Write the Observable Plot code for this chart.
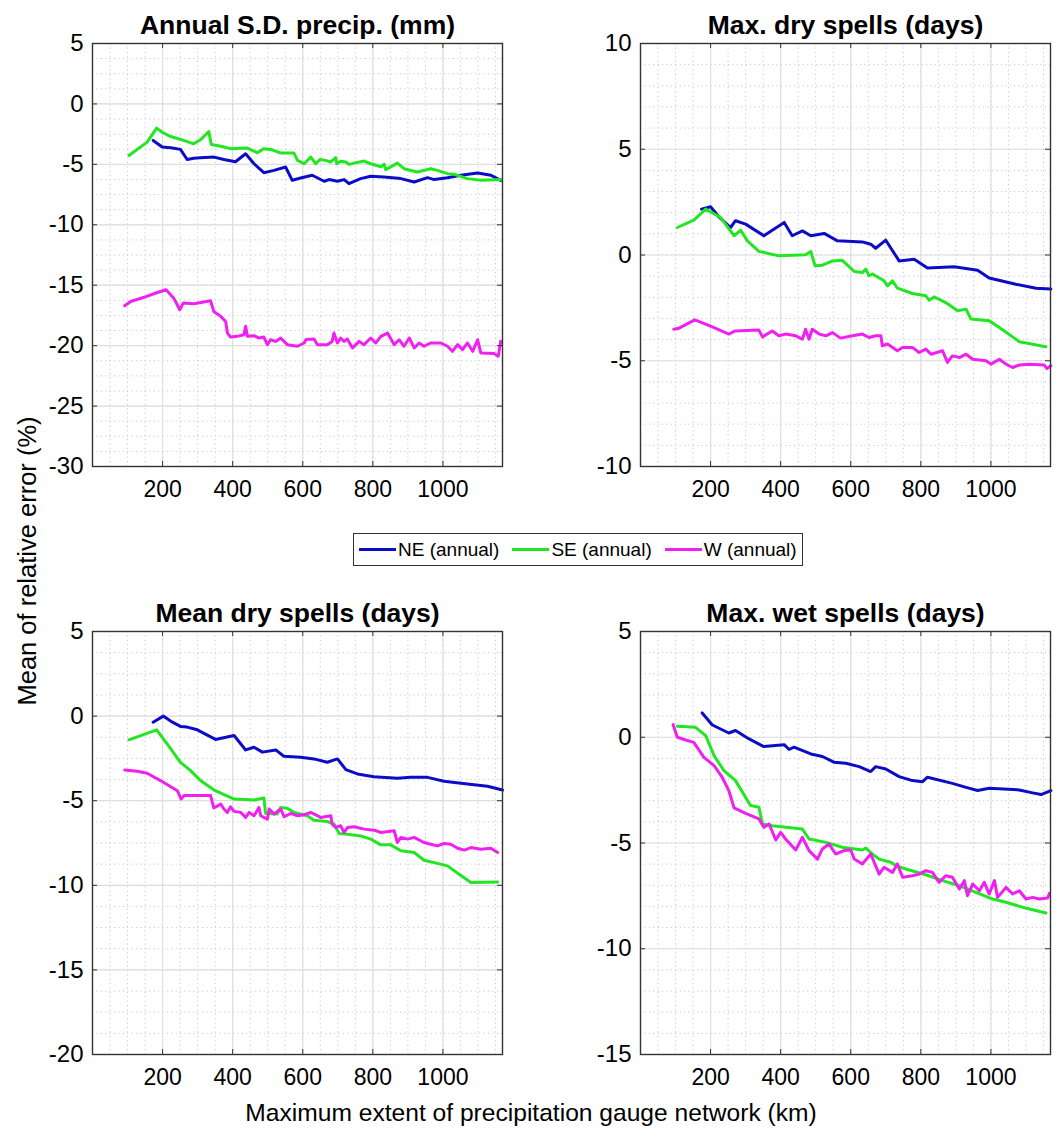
<!DOCTYPE html>
<html>
<head>
<meta charset="utf-8">
<script src="https://cdn.jsdelivr.net/npm/d3@7"></script>
<script src="https://cdn.jsdelivr.net/npm/@observablehq/plot@0.6"></script>
<style>
  html, body { margin: 0; padding: 0; background: #fff; }
  #root { position: relative; width: 1062px; height: 1141px; background: #fff; font-family: Arial, "Liberation Sans", Helvetica, sans-serif; color: #000; }
  .panel { position: absolute; }
  .ylab { position: absolute; left: 27px; top: 561px; transform: translate(-50%, -50%) rotate(-90deg); font-size: 25.5px; white-space: nowrap; }
  .xlab { position: absolute; left: 531px; top: 1099px; transform: translateX(-50%); font-size: 24.6px; white-space: nowrap; }
  .legend { position: absolute; left: 353px; top: 533px; width: 448px; height: 31px; border: 1px solid #333; display: flex; align-items: center; font-size: 19px; background: #fff; white-space: nowrap; }
  .legend .item { display: flex; align-items: center; flex-shrink: 0; margin-left: 5px; margin-right: 8px; white-space: nowrap; }
  .legend .sw { width: 37px; height: 3px; margin-right: 2px; flex-shrink: 0; }
</style>
</head>
<body>
<div id="root"></div>
<script>
// ---------- data ----------
const titles = ["Annual S.D. precip. (mm)", "Max. dry spells (days)", "Mean dry spells (days)", "Max. wet spells (days)"];
const seriesNames = ["NE (annual)", "SE (annual)", "W (annual)"];
const seriesColors = ["#0c0cc8", "#22e622", "#f020f0"];
const xTicks = [200, 400, 600, 800, 1000];
const yTicksSD = [5, 0, -5, -10, -15, -20, -25, -30];
const yTicksMaxDry = [10, 5, 0, -5, -10];
const yTicksMeanDry = [5, 0, -5, -10, -15, -20];
const yTicksMaxWet = [5, 0, -5, -10, -15];
const xLabel = "Maximum extent of precipitation gauge network (km)";
const yLabel = "Mean of relative error (%)";

// Annual S.D. precip.
const sdNE = [[173,-3.02],[199,-3.57],[223,-3.62],[251,-3.76],[270,-4.6],[289,-4.5],[308,-4.45],[347,-4.4],[375,-4.6],[408,-4.78],[437,-4.12],[461,-4.95],[489,-5.69],[518,-5.5],[551,-5.22],[570,-6.32],[594,-6.13],[627,-5.9],[661,-6.4],[675,-6.26],[699,-6.4],[718,-6.26],[732,-6.6],[765,-6.18],[794,-5.99],[832,-6.05],[880,-6.18],[918,-6.46],[956,-6.1],[975,-6.26],[1013,-6.1],[1051,-5.9],[1099,-5.71],[1137,-5.9],[1165,-6.32]];
const sdSE = [[104,-4.26],[156,-3.16],[183,-2.0],[199,-2.34],[223,-2.7],[256,-2.97],[289,-3.3],[308,-2.97],[332,-2.28],[339,-3.35],[366,-3.5],[394,-3.7],[442,-3.65],[470,-4.04],[489,-3.7],[513,-3.8],[537,-4.07],[575,-4.07],[585,-4.67],[604,-4.95],[623,-4.4],[637,-4.95],[649,-4.6],[665,-4.67],[680,-4.8],[694,-4.45],[697,-4.95],[708,-4.75],[723,-4.8],[732,-5.0],[746,-4.9],[775,-4.73],[794,-4.95],[823,-5.2],[832,-4.98],[837,-5.44],[870,-4.9],[889,-5.36],[927,-5.63],[965,-5.36],[984,-5.5],[1013,-5.77],[1032,-5.82],[1070,-6.18],[1108,-6.32],[1165,-6.26]];
const sdW = [[92,-16.7],[109,-16.35],[147,-16.0],[185,-15.6],[210,-15.38],[232,-16.07],[249,-17.03],[259,-16.48],[289,-16.54],[337,-16.29],[346,-17.17],[366,-17.58],[380,-18.0],[385,-18.96],[394,-19.29],[413,-19.23],[432,-19.1],[437,-18.4],[442,-19.23],[461,-19.18],[475,-19.37],[489,-19.29],[499,-19.92],[508,-19.51],[523,-19.65],[537,-19.37],[556,-19.92],[585,-20.05],[604,-19.78],[609,-19.5],[632,-19.45],[642,-19.92],[670,-19.92],[684,-19.65],[689,-18.96],[699,-19.78],[708,-19.37],[718,-19.65],[727,-19.45],[742,-20.19],[761,-19.65],[775,-19.92],[794,-19.37],[808,-19.78],[823,-19.23],[842,-18.96],[861,-19.92],[875,-19.51],[889,-20.05],[904,-19.37],[918,-20.19],[932,-19.78],[946,-20.05],[965,-19.78],[994,-19.78],[1013,-20.05],[1027,-20.47],[1042,-19.92],[1056,-20.33],[1070,-19.78],[1085,-20.47],[1099,-19.51],[1108,-20.6],[1146,-20.65],[1158,-20.88],[1165,-19.64]];

// Max. dry spells
const mxdNE = [[174,2.17],[200,2.28],[224,1.8],[257,1.3],[271,1.62],[300,1.46],[352,0.91],[410,1.54],[433,0.91],[462,1.14],[486,0.91],[524,1.02],[562,0.67],[633,0.62],[657,0.51],[671,0.32],[700,0.70],[738,-0.28],[781,-0.2],[819,-0.62],[895,-0.56],[962,-0.72],[995,-1.09],[1071,-1.38],[1129,-1.57],[1171,-1.61]];
const mxdSE = [[105,1.3],[152,1.65],[186,2.17],[229,1.77],[267,0.91],[286,1.17],[305,0.67],[338,0.17],[395,-0.04],[471,0.01],[486,0.17],[498,-0.51],[519,-0.48],[548,-0.28],[576,-0.25],[610,-0.78],[633,-0.83],[643,-0.67],[652,-0.98],[662,-0.9],[695,-1.22],[705,-1.46],[719,-1.22],[733,-1.57],[776,-1.82],[814,-1.93],[824,-2.14],[838,-1.98],[871,-2.25],[905,-2.64],[929,-2.56],[943,-3.03],[995,-3.11],[1024,-3.43],[1081,-4.1],[1157,-4.34]];
const mxdW = [[95,-3.51],[110,-3.46],[155,-3.07],[205,-3.4],[252,-3.74],[270,-3.59],[338,-3.55],[348,-3.87],[376,-3.59],[395,-3.82],[414,-3.74],[443,-3.82],[462,-3.98],[471,-3.51],[481,-3.98],[490,-3.51],[510,-3.74],[529,-3.82],[548,-3.67],[571,-3.93],[605,-3.82],[633,-3.74],[652,-3.9],[671,-3.82],[686,-3.82],[690,-4.29],[705,-4.21],[733,-4.53],[748,-4.37],[776,-4.37],[795,-4.61],[814,-4.45],[829,-4.69],[862,-4.53],[876,-5.08],[890,-4.77],[910,-4.85],[929,-4.69],[948,-4.93],[986,-5.0],[1000,-5.16],[1024,-4.93],[1043,-5.16],[1062,-5.32],[1081,-5.2],[1110,-5.16],[1152,-5.2],[1160,-5.37],[1171,-5.24]];

// Mean dry spells
const mndNE = [[173,-0.36],[202,0],[228,-0.36],[251,-0.61],[270,-0.65],[299,-0.81],[351,-1.38],[404,-1.15],[437,-2.0],[461,-1.84],[485,-2.13],[523,-2.0],[546,-2.37],[594,-2.43],[632,-2.53],[670,-2.73],[699,-2.53],[723,-3.16],[756,-3.42],[803,-3.58],[870,-3.68],[908,-3.62],[956,-3.62],[1003,-3.85],[1070,-4.01],[1127,-4.15],[1170,-4.37]];
const mndSE = [[104,-1.40],[183,-0.81],[213,-1.64],[251,-2.73],[280,-3.22],[308,-3.81],[347,-4.37],[404,-4.9],[461,-4.96],[489,-4.84],[494,-5.75],[527,-5.79],[537,-5.4],[556,-5.44],[575,-5.69],[613,-5.89],[632,-6.15],[670,-6.23],[689,-6.38],[704,-6.94],[728,-6.98],[765,-7.08],[794,-7.27],[823,-7.61],[851,-7.61],[880,-7.96],[918,-8.06],[946,-8.52],[975,-8.66],[1013,-8.85],[1042,-9.29],[1080,-9.84],[1156,-9.8]];
const mndW = [[92,-3.18],[128,-3.26],[156,-3.38],[194,-3.81],[242,-4.41],[253,-4.9],[261,-4.7],[337,-4.70],[346,-5.43],[366,-5.2],[375,-5.49],[385,-5.69],[394,-5.36],[404,-5.63],[423,-5.69],[437,-5.99],[447,-5.69],[461,-5.89],[475,-5.4],[480,-5.89],[499,-6.09],[504,-5.49],[518,-5.79],[537,-5.49],[547,-5.95],[566,-5.75],[585,-5.89],[604,-5.83],[623,-5.69],[651,-5.99],[680,-5.89],[684,-6.38],[694,-6.58],[708,-6.48],[718,-6.88],[728,-6.58],[747,-6.54],[775,-6.68],[804,-6.74],[823,-6.88],[861,-6.78],[870,-7.47],[880,-7.17],[899,-7.27],[918,-7.17],[946,-7.47],[965,-7.57],[984,-7.67],[1003,-7.53],[1022,-7.57],[1042,-7.81],[1061,-7.92],[1080,-7.77],[1108,-7.87],[1137,-7.81],[1156,-8.06]];

// Max. wet spells
const mxwNE = [[176,1.15],[205,0.58],[252,0.2],[271,0.32],[310,-0.08],[352,-0.44],[410,-0.35],[424,-0.58],[438,-0.47],[486,-0.79],[519,-0.91],[552,-1.18],[586,-1.23],[624,-1.39],[657,-1.62],[671,-1.39],[700,-1.5],[738,-1.86],[776,-2.05],[805,-2.1],[819,-1.89],[890,-2.18],[929,-2.37],[962,-2.52],[995,-2.41],[1081,-2.49],[1119,-2.63],[1143,-2.71],[1171,-2.52]];
const mxwSE = [[105,0.52],[157,0.47],[186,0.08],[210,-0.87],[238,-1.58],[271,-2.05],[314,-3.23],[338,-3.31],[348,-4.1],[376,-4.18],[462,-4.34],[481,-4.81],[529,-4.97],[576,-5.2],[633,-5.33],[643,-5.24],[662,-5.52],[681,-5.76],[714,-5.91],[729,-6.07],[757,-6.23],[814,-6.5],[862,-6.78],[910,-7.02],[957,-7.33],[1005,-7.65],[1043,-7.8],[1090,-8.04],[1157,-8.31]];
const mxwW = [[93,0.6],[105,0],[129,-0.13],[152,-0.24],[181,-0.95],[210,-1.34],[233,-1.89],[252,-2.52],[267,-3.34],[300,-3.6],[338,-3.86],[352,-4.26],[367,-4.1],[386,-4.86],[400,-4.5],[414,-4.81],[443,-5.33],[462,-4.73],[481,-5.36],[505,-5.76],[519,-5.28],[538,-5.05],[557,-5.52],[581,-5.36],[600,-5.33],[610,-5.76],[633,-5.99],[657,-5.52],[681,-6.47],[695,-6.15],[719,-6.39],[733,-5.99],[748,-6.62],[776,-6.55],[795,-6.47],[814,-6.31],[833,-6.39],[852,-6.86],[871,-6.55],[890,-6.62],[910,-7.18],[924,-6.78],[933,-7.49],[948,-6.94],[967,-7.26],[981,-6.86],[995,-7.41],[1010,-6.78],[1019,-7.57],[1043,-7.1],[1062,-7.41],[1081,-7.26],[1100,-7.65],[1119,-7.57],[1138,-7.65],[1162,-7.6],[1167,-7.38]];

// ---------- drawing ----------
const FONT = 'Arial, "Liberation Sans", Helvetica, sans-serif';
const root = document.getElementById("root");

function panel({title, series, yDomain, yTicks, yMinor, left, top, mLeft, height}) {
  const PW = 410, PH = 423, W = 531;
  const xMinor = d3.range(50, 1170, 50);
  const marks = [
    Plot.ruleX(xMinor, {stroke: "#c8c8c8", strokeDasharray: "1.2,3.2", strokeWidth: 1}),
    Plot.ruleY(yMinor, {stroke: "#c8c8c8", strokeDasharray: "1.2,3.2", strokeWidth: 1}),
    Plot.ruleX(xTicks, {stroke: "#dedede", strokeWidth: 1.2}),
    Plot.ruleY(yTicks, {stroke: "#dedede", strokeWidth: 1.2}),
  ];
  series.forEach((s, i) => {
    marks.push(Plot.line(s, {x: d => d[0], y: d => d[1], stroke: seriesColors[i], strokeWidth: 3}));
  });
  marks.push(
    Plot.ruleX(xTicks, {stroke: "#333", insetTop: PH - 5}),
    Plot.ruleX(xTicks, {stroke: "#333", insetBottom: PH - 5}),
    Plot.ruleY(yTicks, {stroke: "#333", insetRight: PW - 5}),
    Plot.ruleY(yTicks, {stroke: "#333", insetLeft: PW - 5}),
    Plot.frame({stroke: "#333", strokeWidth: 1.4}),
    Plot.axisX({ticks: xTicks, tickSize: 0, tickPadding: 14, fontSize: 23, tickFormat: d => String(d), label: null}),
    Plot.axisY({ticks: yTicks, tickSize: 0, tickPadding: 9, fontSize: 24, tickFormat: d => String(d), label: null}),
    Plot.text([title], {frameAnchor: "top", lineAnchor: "bottom", dy: -10, fontSize: 26.5, fontWeight: "bold", text: d => d})
  );
  const svg = Plot.plot({
    width: W, height,
    marginLeft: mLeft, marginRight: W - mLeft - PW, marginTop: 43, marginBottom: height - 43 - PH,
    x: {domain: [0, 1170]},
    y: {domain: yDomain},
    style: {fontFamily: FONT, fontSize: "23.5px", background: "transparent", color: "#000", overflow: "visible"},
    marks
  });
  const wrap = document.createElement("div");
  wrap.className = "panel";
  wrap.style.left = left + "px";
  wrap.style.top = top + "px";
  wrap.appendChild(svg);
  root.appendChild(wrap);
}

panel({title: titles[0], series: [sdNE, sdSE, sdW], yDomain: [-30, 5], yTicks: yTicksSD, yMinor: d3.range(-28.75, 5, 1.25), left: 0, top: 0, mLeft: 92, height: 520});
panel({title: titles[1], series: [mxdNE, mxdSE, mxdW], yDomain: [-10, 10], yTicks: yTicksMaxDry, yMinor: d3.range(-9, 10, 1), left: 531, top: 0, mLeft: 109, height: 520});
panel({title: titles[2], series: [mndNE, mndSE, mndW], yDomain: [-20, 5], yTicks: yTicksMeanDry, yMinor: d3.range(-18.75, 5, 1.25), left: 0, top: 588, mLeft: 92, height: 512});
panel({title: titles[3], series: [mxwNE, mxwSE, mxwW], yDomain: [-15, 5], yTicks: yTicksMaxWet, yMinor: d3.range(-14, 5, 1), left: 531, top: 588, mLeft: 109, height: 512});

// legend
const leg = document.createElement("div");
leg.className = "legend";
seriesNames.forEach((name, i) => {
  const it = document.createElement("div");
  it.className = "item";
  const sw = document.createElement("div");
  sw.className = "sw";
  sw.style.background = seriesColors[i];
  const tx = document.createElement("span");
  tx.textContent = name;
  it.appendChild(sw); it.appendChild(tx);
  leg.appendChild(it);
});
root.appendChild(leg);

const yl = document.createElement("div");
yl.className = "ylab"; yl.textContent = yLabel; root.appendChild(yl);
const xl = document.createElement("div");
xl.className = "xlab"; xl.textContent = xLabel; root.appendChild(xl);
</script>
</body>
</html>
